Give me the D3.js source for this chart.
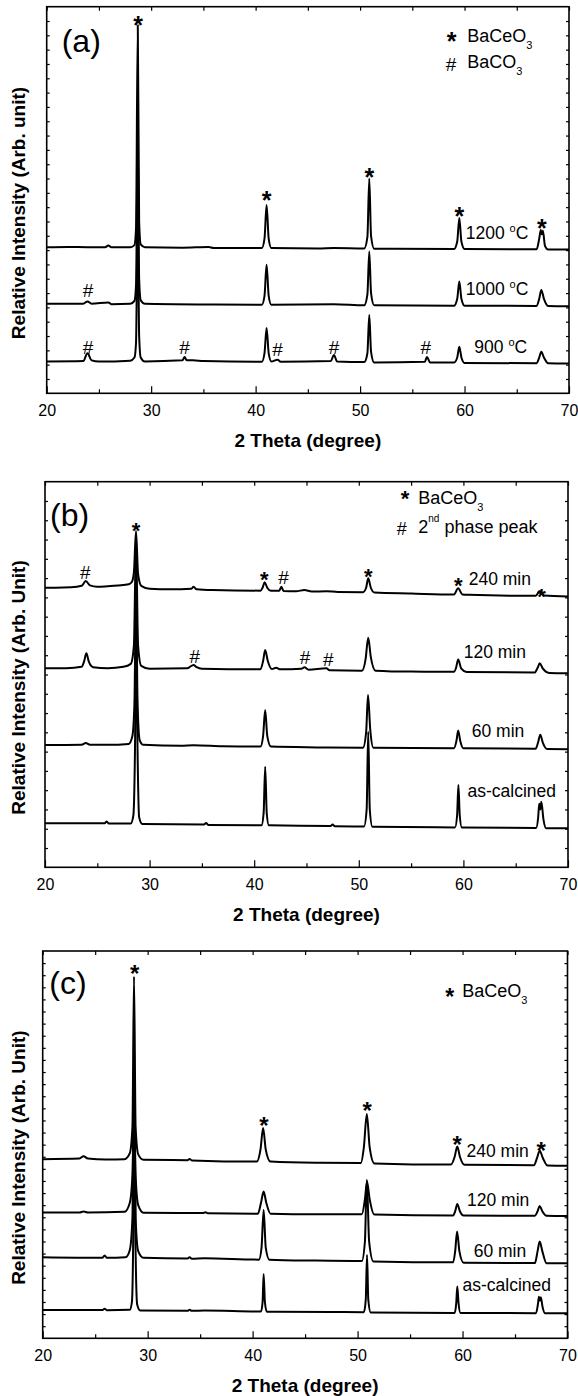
<!DOCTYPE html>
<html>
<head>
<meta charset="utf-8">
<script src="https://cdn.jsdelivr.net/npm/d3@7"></script>
<style>
  body { margin: 0; background: #fff; }
  svg { display: block; font-family: "Liberation Sans", Arial, sans-serif; }
</style>
</head>
<body>
<svg id="chart" width="578" height="1396"></svg>
<script>
// x axis (2 theta, degree)
const X_MAJOR = [20, 30, 40, 50, 60, 70];
const X_MINOR = [25, 35, 45, 55, 65];

// ---- panel (a): calcination temperature ----
const A_1200 = [[20,10.2],[22,10.22],[23.9,10.2],[25.6,10.2],[25.9,10.32],[26.2,10.2],[28.0,10.2],[28.4,10.35],[28.55,11.5],[28.72,25.7],[28.85,12.0],[29.0,10.4],[29.4,10.2],[33,10.17],[35.5,10.22],[36,10.15],[40.6,10.15],[40.85,10.8],[41.05,13.15],[41.25,10.8],[41.5,10.15],[46,10.12],[47.5,10.15],[50.4,10.12],[50.7,10.9],[50.88,15.0],[51.05,11.0],[51.35,10.1],[59.0,10.08],[59.3,10.6],[59.5,12.24],[59.7,10.6],[60.0,10.08],[66.9,10.06],[67.15,10.8],[67.3,11.4],[67.4,11.1],[67.5,11.35],[67.7,10.3],[68,10.05],[70,10.05]];
const A_1000 = [[20,6.25],[23.5,6.25],[23.9,6.42],[24.3,6.25],[25.9,6.35],[26.2,6.22],[28.0,6.25],[28.4,6.45],[28.55,7.5],[28.72,17.9],[28.85,8],[29.0,6.5],[29.4,6.25],[36,6.2],[40.6,6.18],[40.85,6.8],[41.05,8.97],[41.25,6.8],[41.5,6.18],[47.5,6.22],[50.4,6.15],[50.7,6.9],[50.88,9.9],[51.05,7.0],[51.35,6.15],[59.0,6.12],[59.3,6.6],[59.5,7.8],[59.7,6.6],[60.0,6.12],[66.9,6.1],[67.15,6.6],[67.35,7.22],[67.6,6.6],[68,6.1],[70,6.08]];
const A_900 = [[20,2.22],[23.5,2.25],[23.9,2.8],[24.3,2.3],[25,2.22],[28.0,2.28],[28.4,2.5],[28.55,3.5],[28.72,12.6],[28.85,4],[29.0,2.5],[29.4,2.22],[33.0,2.3],[33.2,2.54],[33.4,2.3],[34,2.3],[35,2.25],[40.6,2.2],[40.85,2.8],[41.05,4.56],[41.25,2.8],[41.5,2.22],[42.1,2.35],[42.4,2.2],[47.2,2.25],[47.5,2.68],[47.8,2.22],[50.4,2.18],[50.7,2.8],[50.88,5.47],[51.05,2.9],[51.35,2.15],[56.2,2.2],[56.4,2.54],[56.7,2.15],[59.0,2.15],[59.3,2.5],[59.5,3.25],[59.7,2.5],[60.0,2.12],[66.9,2.1],[67.15,2.5],[67.35,2.9],[67.6,2.5],[68,2.1],[70,2.08]];
const A_MARKS = [[28.75,26.12,"*"],[41.05,13.85,"*"],[50.9,15.5,"*"],[59.5,12.75,"*"],[67.4,11.95,"*"],
                 [23.95,7.21,"#"],[23.95,3.25,"#"],[33.2,3.25,"#"],[42.1,3.07,"#"],[47.5,3.25,"#"],[56.3,3.25,"#"]];
const A_LABELS = [["1200 ", "C", 60.12, 10.78], ["1000 ", "C", 60.12, 6.87], ["900 ", "C", 60.94, 2.81]];

// ---- panel (b) ----
const B_240 = [[20,14.5],[21,14.5],[22.5,14.52],[23.5,14.6],[23.9,14.85],[24.3,14.62],[25,14.55],[26,14.58],[27,14.62],[28.0,14.68],[28.3,14.8],[28.5,15.3],[28.7,17.44],[28.9,15.2],[29.2,14.6],[30,14.45],[32,14.42],[34,14.45],[34.2,14.55],[34.5,14.42],[36,14.38],[40.6,14.35],[40.8,14.5],[41.0,14.78],[41.25,14.5],[41.6,14.34],[42.4,14.35],[42.6,14.55],[42.8,14.33],[44,14.32],[44.8,14.38],[45.5,14.3],[46.9,14.32],[48,14.28],[50.4,14.27],[50.7,14.5],[50.9,14.99],[51.15,14.5],[51.5,14.25],[55,14.2],[59.1,14.15],[59.5,14.47],[59.9,14.15],[60.5,14.13],[66.9,14.08],[67.3,14.33],[67.7,14.1],[70,14.05]];
const B_120 = [[20,10.32],[22,10.33],[23.5,10.4],[23.75,10.7],[23.95,11.1],[24.2,10.65],[24.6,10.38],[26,10.33],[27.5,10.4],[28.2,10.55],[28.5,11.5],[28.7,16.8],[28.9,11.5],[29.2,10.45],[30,10.3],[33.6,10.32],[34.0,10.45],[34.2,10.49],[34.5,10.38],[35,10.3],[40.6,10.27],[40.85,10.7],[41.05,11.27],[41.3,10.7],[41.7,10.28],[42.1,10.35],[42.5,10.27],[44.5,10.3],[44.8,10.37],[45.2,10.25],[46.9,10.32],[47.2,10.22],[50.3,10.2],[50.65,10.8],[50.9,11.91],[51.15,10.9],[51.6,10.2],[55,10.15],[59.1,10.14],[59.3,10.35],[59.5,10.78],[59.8,10.3],[60.3,10.13],[66.8,10.1],[67.1,10.35],[67.3,10.58],[67.6,10.3],[68.2,10.08],[70,10.06]];
const B_60 = [[20,6.34],[23.5,6.36],[23.9,6.45],[24.3,6.36],[26,6.35],[28.0,6.4],[28.35,6.8],[28.55,8.5],[28.7,14.4],[28.85,8.5],[29.05,6.6],[29.4,6.35],[33,6.3],[34.2,6.33],[37,6.28],[40.6,6.26],[40.85,6.8],[41.05,8.16],[41.25,6.8],[41.6,6.26],[46,6.22],[50.4,6.2],[50.7,7.0],[50.88,8.94],[51.1,7.1],[51.4,6.2],[59.1,6.18],[59.35,6.6],[59.5,7.1],[59.7,6.55],[60,6.17],[66.9,6.15],[67.15,6.5],[67.35,6.88],[67.6,6.45],[68,6.13],[70,6.12]];
const B_AS = [[20,2.28],[25.7,2.28],[25.9,2.38],[26.1,2.27],[28.2,2.27],[28.45,2.7],[28.6,6],[28.72,12.5],[28.85,6],[29.0,2.6],[29.3,2.25],[35.2,2.22],[35.4,2.3],[35.6,2.2],[40.7,2.18],[40.9,2.8],[41.05,5.22],[41.2,2.8],[41.4,2.18],[47.3,2.14],[47.5,2.22],[47.7,2.13],[50.5,2.12],[50.75,3],[50.9,7.03],[51.05,3],[51.3,2.1],[59.2,2.07],[59.4,2.7],[59.52,4.27],[59.65,2.7],[59.85,2.06],[66.95,2.04],[67.15,2.6],[67.25,3.3],[67.35,3.0],[67.45,3.4],[67.65,2.5],[67.9,2.03],[70,2.02]];
const B_MARKS = [[23.85,15.3,"#"],[28.71,17.75,"*"],[40.97,15.2,"*"],[42.8,15.05,"#"],[50.9,15.35,"*"],[59.5,14.9,"*"],[67.46,14.3,"*"],
                 [34.32,10.97,"#"],[44.85,10.9,"#"],[47.08,10.8,"#"]];
const B_LABELS = [["240 min", null, 60.51, 14.64], ["120 min", null, 60.03, 10.84], ["60 min", null, 60.8, 6.77], ["as-calcined", null, 60.39, 3.66]];

// ---- panel (c) ----
const C_240 = [[20,14.8],[23.5,14.85],[23.9,15.05],[24.3,14.85],[26,14.78],[27.8,14.8],[28.3,15.3],[28.55,17.5],[28.7,29.9],[28.85,17.5],[29.1,15.2],[29.6,14.75],[33.8,14.72],[34,14.82],[34.2,14.7],[40.4,14.6],[40.75,15.6],[41.0,17.37],[41.25,15.6],[41.7,14.6],[46,14.5],[50.3,14.48],[50.6,15.8],[50.88,18.53],[51.15,15.8],[51.6,14.45],[58.9,14.35],[59.25,15.0],[59.5,15.85],[59.75,15.0],[60.2,14.33],[66.8,14.3],[67.1,14.9],[67.35,15.5],[67.65,14.9],[68.1,14.27],[70,14.25]];
const C_120 = [[20,10.39],[23.5,10.4],[23.9,10.48],[24.3,10.4],[27.8,10.45],[28.3,11.2],[28.55,13.5],[28.7,19.5],[28.85,13.5],[29.1,11],[29.6,10.38],[35.3,10.35],[35.5,10.42],[35.7,10.34],[40.5,10.3],[40.8,11.2],[41.05,12.13],[41.3,11.2],[41.7,10.3],[46,10.25],[50.4,10.25],[50.7,11.5],[50.9,12.95],[51.15,11.5],[51.6,10.22],[59.1,10.15],[59.3,10.5],[59.5,11.1],[59.75,10.5],[60.1,10.14],[66.9,10.13],[67.15,10.5],[67.35,10.94],[67.6,10.5],[68,10.12],[70,10.1]];
const C_60 = [[20,6.7],[25.7,6.65],[25.9,6.85],[26.1,6.65],[27.9,6.7],[28.3,7.3],[28.55,10],[28.7,23.8],[28.85,10],[29.1,7.2],[29.6,6.65],[33.8,6.6],[34,6.7],[34.2,6.58],[35.4,6.62],[40.6,6.5],[40.85,7.5],[41.05,10.61],[41.25,7.5],[41.6,6.5],[46,6.42],[50.4,6.38],[50.7,8],[50.88,13.1],[51.1,8],[51.5,6.35],[59.1,6.28],[59.3,7.2],[59.48,8.82],[59.7,7.2],[60.1,6.25],[66.9,6.22],[67.15,7.2],[67.35,7.99],[67.6,7.2],[68,6.2],[70,6.2]];
const C_AS = [[20,2.34],[25.7,2.33],[25.9,2.45],[26.1,2.32],[28.3,2.35],[28.5,3],[28.62,8],[28.72,19.7],[28.84,8],[29.0,2.8],[29.3,2.3],[33.8,2.28],[34,2.35],[34.2,2.27],[35.4,2.3],[40.8,2.22],[40.95,3],[41.05,5.32],[41.17,3],[41.35,2.2],[47.5,2.18],[50.6,2.16],[50.78,3.2],[50.9,6.89],[51.02,3.2],[51.25,2.14],[59.25,2.1],[59.4,2.9],[59.5,4.27],[59.62,2.9],[59.8,2.09],[67.0,2.08],[67.18,2.8],[67.28,3.44],[67.38,3.1],[67.46,3.4],[67.62,2.6],[67.85,2.07],[70,2.07]];
const C_MARKS = [[28.77,30.6,"*"],[41.07,18.05,"*"],[50.92,19.28,"*"],[59.49,16.5,"*"],[67.5,16.0,"*"]];
const C_LABELS = [["240 min", null, 60.38, 15.02], ["120 min", null, 60.43, 10.89], ["60 min", null, 61.06, 6.75], ["as-calcined", null, 60.0, 3.9]];

const svg = d3.select("#chart");

const panels = [
  { left: 46.7, right: 569, top: 6.7, bottom: 393.3, ymax: 27, tag: "(a)", tagX: 61.7, tagY: 51.6,
    ytitle: "Relative Intensity (Arb. unit)", series: [A_1200, A_1000, A_900], marks: A_MARKS, labels: A_LABELS, markSize: 25 },
  { left: 45, right: 568, top: 481.7, bottom: 867.3, ymax: 20, tag: "(b)", tagX: 50, tagY: 526.3,
    ytitle: "Relative Intensity (Arb. Unit)", series: [B_240, B_120, B_60, B_AS], marks: B_MARKS, labels: B_LABELS, markSize: 22 },
  { left: 42.7, right: 567.5, top: 951, bottom: 1338.3, ymax: 32, tag: "(c)", tagX: 49.3, tagY: 993.5,
    ytitle: "Relative Intensity (Arb. Unit)", series: [C_240, C_120, C_60, C_AS], marks: C_MARKS, labels: C_LABELS, markSize: 24 }
];

// symbol text placed by its visual centre
const symbol = (g, sym, px, py, size) => {
  g.append("text")
    .attr("x", px)
    .attr("y", py + (sym === "*" ? 0.58 : 0.36) * size)
    .attr("text-anchor", "middle")
    .attr("font-size", size)
    .attr("font-weight", sym === "*" ? "bold" : null)
    .text(sym);
};

const drawPanel = (p) => {
  const x = d3.scaleLinear().domain([20, 70]).range([p.left, p.right]);
  const y = d3.scaleLinear().domain([0, p.ymax]).range([p.bottom, p.top]);
  const g = svg.append("g");

  const styleAxis = (sel) => {
    sel.attr("font-family", null).attr("font-size", 16);
    sel.select(".domain").remove();
    sel.selectAll(".tick line").attr("stroke", "#000").attr("stroke-width", 1.2);
    sel.selectAll(".tick text").attr("fill", "#000");
  };

  g.append("g").attr("transform", `translate(0,${p.bottom})`)
    .call(d3.axisBottom(x).tickValues(X_MAJOR).tickSizeInner(-7).tickSizeOuter(0).tickPadding(11).tickFormat(d3.format("d")))
    .call(styleAxis);
  g.append("g").attr("transform", `translate(0,${p.bottom})`)
    .call(d3.axisBottom(x).tickValues(X_MINOR).tickSizeInner(-4).tickSizeOuter(0).tickFormat(""))
    .call(styleAxis);
  g.append("g").attr("transform", `translate(0,${p.top})`)
    .call(d3.axisTop(x).tickValues(X_MAJOR.concat(X_MINOR)).tickSizeInner(-4).tickSizeOuter(0).tickFormat(""))
    .call(styleAxis);
  g.append("g").attr("transform", `translate(${p.left},0)`)
    .call(d3.axisLeft(y).tickValues(d3.range(1, p.ymax)).tickSizeInner(-3).tickSizeOuter(0).tickFormat(""))
    .call(styleAxis);
  g.append("g").attr("transform", `translate(${p.right},0)`)
    .call(d3.axisRight(y).tickValues(d3.range(1, p.ymax)).tickSizeInner(-3).tickSizeOuter(0).tickFormat(""))
    .call(styleAxis);

  g.append("rect")
    .attr("x", p.left).attr("y", p.top)
    .attr("width", p.right - p.left).attr("height", p.bottom - p.top)
    .attr("fill", "none").attr("stroke", "#000").attr("stroke-width", 1.6);

  const line = d3.line()
    .x((d) => x(d[0]))
    .y((d) => y(d[1]))
    .curve(d3.curveMonotoneX);

  p.series.forEach((s) => {
    g.append("path").datum(s)
      .attr("d", line)
      .attr("fill", "none")
      .attr("stroke", "#000")
      .attr("stroke-width", 2)
      .attr("stroke-linejoin", "round");
  });

  p.marks.forEach((m) => symbol(g, m[2], x(m[0]), y(m[1]), m[2] === "*" ? p.markSize : 19));

  p.labels.forEach((l) => {
    const t = g.append("text")
      .attr("x", x(l[2])).attr("y", y(l[3]))
      .attr("font-size", 17.5)
      .text(l[0]);
    if (l[1]) {
      t.append("tspan").attr("font-size", 11).attr("dy", -7).text("o");
      t.append("tspan").attr("dy", 7).text(l[1]);
    }
  });

  g.append("text")
    .attr("x", p.tagX).attr("y", p.tagY)
    .attr("font-size", 32)
    .text(p.tag);

  g.append("text")
    .attr("x", (p.left + p.right) / 2).attr("y", p.bottom + 53.7)
    .attr("text-anchor", "middle")
    .attr("font-size", 19).attr("font-weight", "bold")
    .text("2 Theta (degree)");

  g.append("text")
    .attr("transform", `translate(25,${(p.top + p.bottom) / 2 + 13}) rotate(-90)`)
    .attr("text-anchor", "middle")
    .attr("font-size", 19).attr("font-weight", "bold")
    .text(p.ytitle);
};

panels.forEach(drawPanel);

// legends
const legend = (px, py, size) => svg.append("text").attr("x", px).attr("y", py).attr("font-size", size);

symbol(svg, "*", 451.7, 35.5, 25);
const la1 = legend(467.3, 41.7, 18).text("BaCeO");
la1.append("tspan").attr("font-size", 11).attr("dy", 7).text("3");
symbol(svg, "#", 451, 64, 19);
const la2 = legend(467.3, 68.3, 18).text("BaCO");
la2.append("tspan").attr("font-size", 11).attr("dy", 7).text("3");

symbol(svg, "*", 405, 493.3, 22);
const lb1 = legend(418.3, 504.3, 18).text("BaCeO");
lb1.append("tspan").attr("font-size", 11).attr("dy", 6.5).text("3");
symbol(svg, "#", 401.7, 528.3, 18);
const lb2 = legend(418.3, 533.3, 18).text("2");
lb2.append("tspan").attr("font-size", 10).attr("dy", -11).text("nd");
lb2.append("tspan").attr("dy", 11).text(" phase peak");

symbol(svg, "*", 449.8, 991.7, 23);
const lc1 = legend(462.3, 997.3, 18).text("BaCeO");
lc1.append("tspan").attr("font-size", 11).attr("dy", 6.5).text("3");
</script>
</body>
</html>
